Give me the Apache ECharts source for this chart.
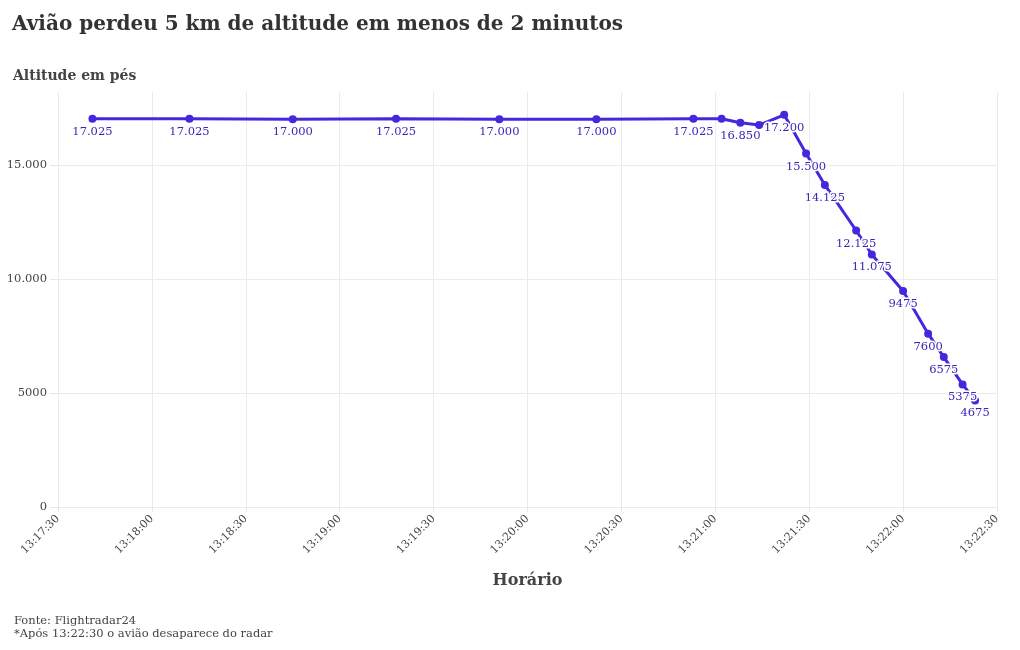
<!DOCTYPE html>
<html>
<head>
<meta charset="utf-8">
<script src="https://cdn.jsdelivr.net/npm/echarts@6/dist/echarts.min.js"></script>
<style>
html,body{margin:0;padding:0;background:#fff;}
#chart{width:1020px;height:650px;}
</style>
</head>
<body>
<div id="chart"></div>
<script>
// Data
const times = ["13:17:41","13:18:12","13:18:45","13:19:18","13:19:51","13:20:22","13:20:53",
  "13:21:02","13:21:08","13:21:14","13:21:22","13:21:29","13:21:35","13:21:45","13:21:50",
  "13:22:00","13:22:08","13:22:13","13:22:19","13:22:23"];
const altitudes = [17025,17025,17000,17025,17000,17000,17025,
  17025,16850,16750,17200,15500,14125,12125,11075,
  9475,7600,6575,5375,4675];
const xStart = "13:17:30";
const xEnd = "13:22:30";
const xStepSeconds = 30;
const yTicks = [0, 5000, 10000, 15000];

const FONT = "'DejaVu Serif', 'Liberation Serif', serif";

function toSec(t){const p=t.split(':').map(Number);return p[0]*3600+p[1]*60+p[2];}
function fmtTime(s){const h=Math.floor(s/3600),m=Math.floor((s%3600)/60),ss=Math.round(s%60);
  return h+':'+String(m).padStart(2,'0')+':'+String(ss).padStart(2,'0');}
function fmtNum(v){
  if (v>=10000){return String(v).replace(/\B(?=(\d{3})+(?!\d))/g,'.');}
  return String(v);
}
const t0 = toSec(xStart), t1 = toSec(xEnd);
const seriesData = times.map((t,i)=>[toSec(t), altitudes[i]]);

const chart = echarts.init(document.getElementById('chart'));
chart.setOption({
  animation:false,
  backgroundColor:'#fff',
  textStyle:{fontFamily:FONT},
  title:[
    {text:'Avião perdeu 5 km de altitude em menos de 2 minutos', left:7, top:10,
     textStyle:{fontFamily:FONT, fontSize:20, fontWeight:'bold', color:'#333'}},
    {text:'Altitude em pés', left:8, top:64,
     textStyle:{fontFamily:FONT, fontSize:14, fontWeight:'bold', color:'#444'}},
    {text:'Fonte: Flightradar24\n*Após 13:22:30 o avião desaparece do radar', left:9, top:610,
     textStyle:{fontFamily:FONT, fontSize:11.5, fontWeight:'normal', color:'#444', lineHeight:13}}
  ],
  grid:{left:58, right:23, top:92, bottom:143, containLabel:false},
  xAxis:{
    type:'value', min:t0, max:t1, interval:xStepSeconds,
    name:'Horário', nameLocation:'middle', nameGap:66,
    nameTextStyle:{fontFamily:FONT, fontSize:16, fontWeight:'bold', color:'#444'},
    axisLine:{show:false},
    axisTick:{show:true, length:5, lineStyle:{color:'#e6e6e6'}},
    axisLabel:{rotate:45, margin:10, fontSize:11, color:'#444', fontFamily:FONT,
      formatter:(v)=>fmtTime(v), showMinLabel:true, showMaxLabel:true},
    splitLine:{show:true, lineStyle:{color:'#ebebeb', width:1}}
  },
  yAxis:{
    type:'value', min:0, max:18200, interval:5000,
    axisLine:{show:false},
    axisTick:{show:true, length:8, customValues:yTicks, lineStyle:{color:'#e6e6e6'}},
    axisLabel:{margin:11, fontSize:11.5, color:'#444', fontFamily:FONT, customValues:yTicks,
      formatter:(v)=> yTicks.includes(v) ? fmtNum(v) : ''},
    splitLine:{show:true, lineStyle:{color:['#ebebeb','#ebebeb','#ebebeb','#ebebeb','rgba(0,0,0,0)'], width:1}}
  },
  series:[{
    type:'line',
    data:seriesData,
    symbol:'circle', symbolSize:8,
    lineStyle:{color:'#4527dd', width:3},
    itemStyle:{color:'#4527dd'},
    label:{show:true, position:'bottom', distance:3, fontFamily:FONT, fontSize:11.5, fontWeight:'normal',
      color:'#3a26b8', textBorderColor:'#fff', textBorderWidth:3,
      formatter:(p)=>fmtNum(p.value[1])},
    labelLayout:{hideOverlap:true},
    z:3
  }]
});
</script>
</body>
</html>
